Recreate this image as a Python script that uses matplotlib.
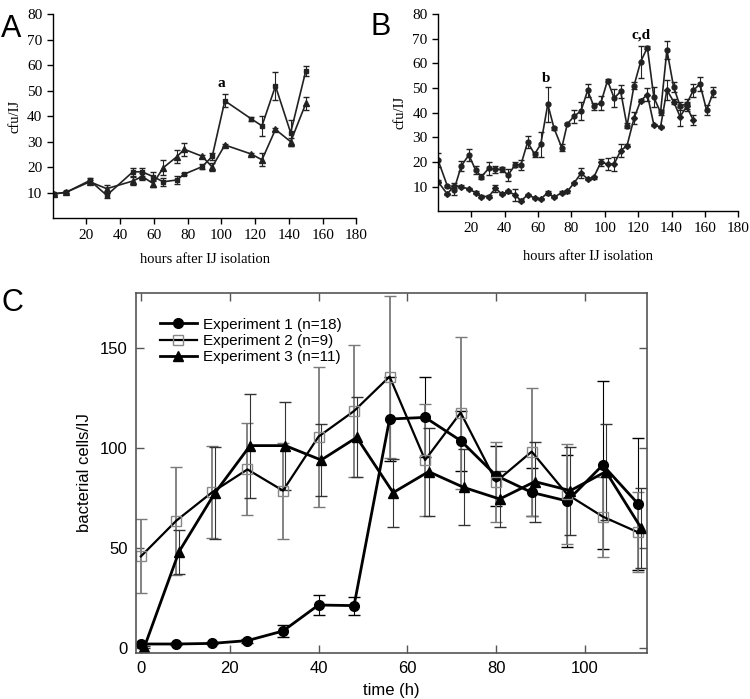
import matplotlib
matplotlib.use("Agg")
import matplotlib.pyplot as plt

# ---- Panel A data ----
hours_a = [0.5, 8, 22, 32, 47.5, 53, 59.5, 65.5, 73.5, 78, 88.5, 94.5, 102, 117.5, 124, 132, 141, 150]
a_sq = [9.5, 10.2, 14.8, 9.0, 18.2, 18.2, 16.3, 14.3, 15.0, 17.3, 20.2, 24.2, 46.0, 39.0, 36.2, 51.8, 33.5, 57.8]
a_sq_err = [0.5, 0.3, 1, 1, 1.5, 1.5, 1.8, 1.5, 1.5, 0.5, 1, 1.5, 2.5, 0.8, 4, 5.5, 5, 2]
a_tri = [9.5, 10.2, 14.3, 11.6, 14.6, 16.4, 13.6, 19.8, 24.1, 27.0, 24.3, 20.1, 28.7, 25.2, 22.9, 34.8, 30.0, 45.0]
a_tri_err = [0.5, 0.3, 0.5, 1.5, 1.5, 1.5, 1.5, 3, 2.5, 2.5, 0.5, 1.5, 0.5, 0.5, 2.5, 0.5, 1.5, 2.5]

# ---- Panel B data ----
hours_b = [0, 5.6, 9.5, 14, 18.5, 22.5, 26, 30.4, 34.4, 38.4, 42, 46.3, 49.7, 53.7, 57.9, 61.6,
           65.8, 69.6, 74.2, 77.5, 81.5, 85.7, 89.7, 93.4, 97.6, 101.6, 105.6, 109.5, 113.3,
           117.5, 121.5, 125.5, 129.4, 133.4, 137.2, 141.2, 145.1, 149, 153, 157, 161, 165]
b_up = [20.8, 10.3, 8.5, 18.5, 22.8, 16.8, 14, 17.4, 17, 17, 14.7, 18.9, 18.9, 28, 23.2, 27.2,
        43.4, 33.6, 25.8, 35.4, 38.5, 40.7, 49, 42.6, 43.9, 53, 45.9, 48.6, 34.6,
        51, 60.7, 66.4, 46.2, 40.1, 65.4, 50.5, 42.7, 43.5, 49, 51.6, 41, 48.2]
b_up_err = [3, 0.5, 2, 2, 2.5, 1.5, 1, 2.5, 1.5, 1, 2.5, 1, 2, 2.5, 1, 5, 7, 0.5, 1.5, 0.5,
            2.5, 3.5, 2.5, 1.5, 3, 0.5, 3.5, 2.5, 1, 1.5, 6.5, 0.5, 4, 1, 3.5, 2, 1.5, 2, 2.5,
            3, 2, 2]
b_low = [12, 7, 10.3, 10, 9, 7.6, 6, 6, 9.3, 7, 8.1, 6.6, 4.3, 6.6, 5.5, 5, 7.6, 5.7, 7.6,
         8.1, 11.4, 15.4, 13.2, 13.8, 19.9, 19.2, 19.2, 24.6, 26.6, 37.7, 44.9, 47.3, 35,
         34.2, 49.2, 44.5, 38.4, 42.5, 37]
b_low_err = [0.5, 0.5, 1, 0.5, 0.5, 0.5, 0.5, 0.5, 1.5, 0.5, 0.5, 2.5, 0.5, 0.5, 0.5, 0.5,
             0.8, 0.5, 0.5, 0.5, 0.5, 2, 0.5, 0.5, 1.5, 2.5, 3, 2.5, 0.5, 2.5, 0.5, 2.5, 0.5,
             0.5, 4, 1, 4, 2, 2]

# ---- Panel C data ----
t1 = [0, 8, 16, 24, 32, 40, 48, 56, 64, 72, 80, 88, 96, 104, 112]
exp1 = [2, 2, 2.3, 3.7, 8.5, 21.5, 21.2, 114.5, 115.3, 103.7, 86.2, 77.8, 73.5, 91.5, 72]
exp1_err = [0.5, 0.5, 0.5, 1, 3, 5, 4.5, 21, 20, 15, 15, 12, 23, 42, 33]
t2 = [0, 8, 16, 24, 32, 40, 48, 56, 64, 72, 80, 88, 96, 104, 112]
exp2 = [45.8, 63.7, 77.8, 89.3, 78.7, 105.7, 118.5, 135.7, 94, 117.7, 83.2, 98.2, 76.8, 65.7, 57.8]
exp2_err = [18.5, 27, 23, 23, 24, 35, 33, 40.5, 28, 38, 20, 32, 25, 20, 20]
t3 = [0.8, 8.6, 16.6, 24.6, 32.5, 40.6, 48.6, 56.8, 64.8, 72.7, 80.8, 88.7, 96.7, 104.7, 112.7]
exp3 = [0.5, 48.2, 77.3, 101.2, 101.2, 94, 105.3, 77.7, 88.2, 80.3, 74.5, 83.2, 78.7, 88.2, 59.8]
exp3_err = [0.5, 11, 23, 26, 22, 18, 20, 17, 22, 19, 14, 20, 22, 24, 20]
labels_c = ["Experiment 1 (n=18)", "Experiment 2 (n=9)", "Experiment 3 (n=11)"]

fig = plt.figure(figsize=(7.5, 6.99), dpi=100)
serif = "Liberation Serif"
sans = "Liberation Sans"


def prism_axes(ax, pad):
    for s in ["top", "right"]:
        ax.spines[s].set_visible(False)
    ax.spines["left"].set_linewidth(1.0)
    ax.spines["bottom"].set_linewidth(1.0)
    ax.set_xlim(0, 180)
    ax.set_ylim(0, 80)
    ax.set_xticks(range(20, 181, 20))
    ax.set_yticks(range(10, 81, 10))
    ax.tick_params(direction="out", length=4, width=1, labelsize=11)
    for lab in ax.get_xticklabels() + ax.get_yticklabels():
        lab.set_family(serif)
    ax.set_ylabel("cfu/IJ", family=serif, fontsize=10.5)
    ax.set_xlabel("hours after IJ isolation", family=serif, fontsize=10.5, labelpad=pad)


# Panel A
axA = fig.add_axes([0.0703, 0.6877, 0.405, 0.2923])
axA.errorbar(hours_a, a_sq, yerr=a_sq_err, color="#222222", marker="s", ms=3.5, lw=1.2,
             elinewidth=0.8, capsize=2.5)
axA.errorbar(hours_a, a_tri, yerr=a_tri_err, color="#222222", marker="^", ms=4, lw=1.2,
             elinewidth=0.8, capsize=2.5)
prism_axes(axA, 8)
axA.text(100, 51.5, "a", family=serif, fontweight="bold", fontsize=11, ha="center")

# Panel B
axB = fig.add_axes([0.584, 0.6977, 0.4004, 0.2823])
axB.errorbar(hours_b, b_up, yerr=b_up_err, color="#222222", marker="o", ms=3.5, lw=1.2,
             elinewidth=0.8, capsize=2.5)
axB.errorbar(hours_b[:len(b_low)], b_low, yerr=b_low_err, color="#222222", marker="D", ms=3,
             lw=1.2, elinewidth=0.8, capsize=2.5)
prism_axes(axB, 11)
axB.text(65, 52.5, "b", family=serif, fontweight="bold", fontsize=11, ha="center")
axB.text(121.5, 70, "c,d", family=serif, fontweight="bold", fontsize=11, ha="center")

# Panel C
axC = fig.add_axes([0.1813, 0.0658, 0.681, 0.515])
axC.errorbar(t1, exp1, yerr=exp1_err, fmt="none", ecolor="black", elinewidth=0.8, capsize=4)
axC.errorbar(t2, exp2, yerr=exp2_err, fmt="none", ecolor="#7a7a7a", elinewidth=1.3, capsize=4)
axC.errorbar(t3, exp3, yerr=exp3_err, fmt="none", ecolor="#333333", elinewidth=0.8, capsize=4)
axC.plot(t1, exp1, color="black", lw=2, marker="o", ms=7, label=labels_c[0])
axC.plot(t2, exp2, color="black", lw=1.6, marker="s", ms=7, mfc="none", mec="#888888",
         mew=1, label=labels_c[1])
axC.plot(t3, exp3, color="black", lw=2, marker="^", ms=7.5, label=labels_c[2])
axC.set_xlim(-1.1, 113.9)
axC.set_ylim(-2.5, 177.5)
axC.set_xticks([0, 20, 40, 60, 80, 100])
axC.set_yticks([0, 50, 100, 150])
axC.tick_params(direction="in", length=6, width=1, color="#555555", labelsize=12,
                top=True, right=True, pad=6)
for s in axC.spines.values():
    s.set_color("#555555")
    s.set_linewidth(1.2)
for lab in axC.get_xticklabels() + axC.get_yticklabels():
    lab.set_family(sans)
axC.set_xlabel("time (h)", family=sans, fontsize=12, labelpad=5)
axC.set_ylabel("bacterial cells/IJ", family=sans, fontsize=12, labelpad=6)
leg = axC.legend(loc="upper left", frameon=False, prop={"family": sans, "size": 11},
                 handlelength=2.4, handletextpad=0.4, labelspacing=0.15,
                 bbox_to_anchor=(0.02, 0.97))

# panel letters
fig.text(0.001, 0.958, "A", family=sans, fontsize=22, va="center")
fig.text(0.494, 0.962, "B", family=sans, fontsize=22, va="center")
fig.text(0.002, 0.567, "C", family=sans, fontsize=22, va="center")

fig.savefig("out.png", dpi=100)
